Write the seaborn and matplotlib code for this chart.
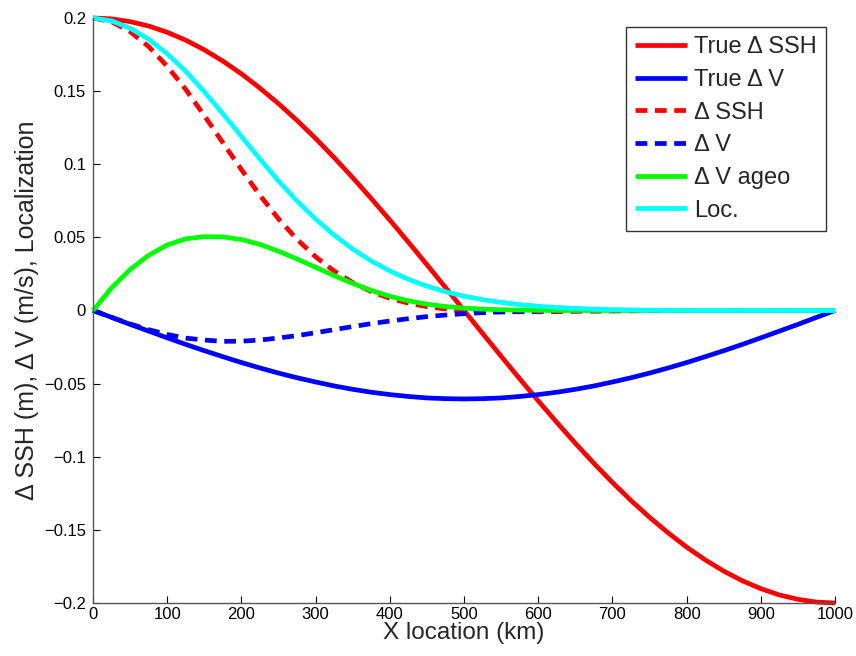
import matplotlib
matplotlib.use("Agg")
import matplotlib.pyplot as plt
import numpy as np
import pandas as pd
import seaborn as sns

# ---- data ----
x_km = [0, 25, 50, 75, 100, 125, 150, 175, 200, 225, 250, 275, 300, 325, 350,
        375, 400, 425, 450, 475, 500, 525, 550, 575, 600, 625, 650, 675, 700,
        725, 750, 775, 800, 825, 850, 875, 900, 925, 950, 975, 1000]

true_dssh = [0.200, 0.1994, 0.1975, 0.1945, 0.1902, 0.1848, 0.1782, 0.1705, 0.1618, 0.1520,
             0.1414, 0.1299, 0.1176, 0.1045, 0.0908, 0.0765, 0.0618, 0.0467, 0.0313, 0.0157,
             0.000, -0.0157, -0.0313, -0.0467, -0.0618, -0.0765, -0.0908, -0.1045, -0.1176,
             -0.1299, -0.1414, -0.1520, -0.1618, -0.1705, -0.1782, -0.1848, -0.1902, -0.1945,
             -0.1975, -0.1994, -0.200]

true_dv = [0.000, -0.0047, -0.0095, -0.0141, -0.0187, -0.0232, -0.0275, -0.0316, -0.0356,
           -0.0393, -0.0428, -0.046, -0.0489, -0.0516, -0.0539, -0.0559, -0.0575, -0.0588,
           -0.0598, -0.0603, -0.0605, -0.0603, -0.0598, -0.0588, -0.0575, -0.0559, -0.0539,
           -0.0516, -0.0489, -0.046, -0.0428, -0.0393, -0.0356, -0.0316, -0.0275, -0.0232,
           -0.0187, -0.0141, -0.0095, -0.0047, 0.000]

dssh = [0.200, 0.1974, 0.1906, 0.1804, 0.1669, 0.1511, 0.1332, 0.1147, 0.0963, 0.0787,
        0.0626, 0.0486, 0.0367, 0.0269, 0.0191, 0.0129, 0.0083, 0.005, 0.0026, 0.001,
        0.000, -0.0006, -0.0009, -0.0009, -0.0009, -0.0008, -0.0006, -0.0005, -0.0004,
        -0.0003, -0.0001, 0, 0, 0, 0, 0, 0, 0, 0, 0, 0]

dv = [0.000, -0.0047, -0.0092, -0.0131, -0.0164, -0.0189, -0.0202, -0.0211, -0.021,
      -0.0202, -0.0188, -0.0172, -0.0152, -0.0131, -0.011, -0.009, -0.0072, -0.0056,
      -0.0042, -0.0031, -0.0022, -0.0015, -0.001, -0.0006, -0.0004, -0.0002, -0.0001,
      0, 0, 0, 0, 0, 0, 0, 0, 0, 0, 0, 0, 0, 0]

dv_ageo = [0.000, 0.0155, 0.028, 0.0378, 0.0448, 0.049, 0.0505, 0.0503, 0.0485, 0.0452,
           0.0405, 0.0352, 0.0295, 0.0238, 0.0185, 0.0137, 0.0097, 0.0066, 0.0043, 0.0027,
           0.0016, 0.0009, 0.0005, 0.0003, 0.0001, 0, 0, 0, 0, 0, 0, 0, 0, 0, 0, 0, 0,
           0, 0, 0, 0]

loc = [0.200, 0.198, 0.193, 0.1855, 0.1755, 0.1635, 0.1495, 0.1345, 0.119, 0.1035, 0.0885,
       0.0748, 0.0625, 0.0515, 0.042, 0.0338, 0.027, 0.0213, 0.0166, 0.0128, 0.0098, 0.0074,
       0.0055, 0.004, 0.0029, 0.002, 0.0014, 0.0009, 0.0006, 0.0004, 0.0002, 0.0001,
       0, 0, 0, 0, 0, 0, 0, 0, 0]

labels = ["True \u0394 SSH", "True \u0394 V", "\u0394 SSH", "\u0394 V", "\u0394 V ageo", "Loc."]
colors = ["#ff0000", "#0000ff", "#ff0000", "#0000ff", "#00ff00", "#00ffff"]
dashed = [False, False, True, True, False, False]

x_ticks = [0, 100, 200, 300, 400, 500, 600, 700, 800, 900, 1000]
y_ticks = [-0.2, -0.15, -0.1, -0.05, 0, 0.05, 0.1, 0.15, 0.2]
y_ticklabels = ["\u22120.2", "\u22120.15", "\u22120.1", "\u22120.05", "0", "0.05", "0.1", "0.15", "0.2"]

# ---- style ----
sns.set_style("ticks")
plt.rcParams["font.family"] = ["Liberation Sans", "DejaVu Sans"]

fig = plt.figure(figsize=(8.56, 6.56), dpi=100)
ax = fig.add_axes([0.1087, 0.0808, 0.8668, 0.8918])

series = [true_dssh, true_dv, dssh, dv, dv_ageo, loc]
for vals, lab, col, dsh in zip(series, labels, colors, dashed):
    df = pd.DataFrame({"x": x_km, "y": vals})
    sns.lineplot(data=df, x="x", y="y", ax=ax, color=col, linewidth=3.4,
                 label=lab, clip_on=False)
    line = ax.get_lines()[-1]
    if dsh:
        line.set_linestyle((0, (2.5, 1.6)))
    line.set_solid_capstyle("butt")
    line.set_dash_capstyle("butt")
    line.set_solid_joinstyle("round")
    line.set_dash_joinstyle("round")

ax.set_xlim(0, 1000)
ax.set_ylim(-0.2, 0.2)
ax.set_xticks(x_ticks)
ax.set_xticklabels([str(t) for t in x_ticks])
ax.set_yticks(y_ticks)
ax.set_yticklabels(y_ticklabels)
ax.tick_params(direction="in", length=5, width=0.8, labelsize=12, colors="#000000")
ax.tick_params(axis="y", pad=5)
ax.tick_params(axis="x", pad=3)
for s in ["top", "right"]:
    ax.spines[s].set_visible(False)
for s in ["left", "bottom"]:
    ax.spines[s].set_color("#555555")
    ax.spines[s].set_linewidth(1.0)

ax.set_xlabel("X location (km)", fontsize=17.5, labelpad=0)
ax.set_ylabel("\u0394 SSH (m), \u0394 V (m/s), Localization", fontsize=18, labelpad=4)

leg = ax.legend(loc="upper right", fontsize=17, frameon=True, fancybox=False,
                handlelength=2.2, handletextpad=0.28, labelspacing=0.45,
                borderpad=0.4, borderaxespad=0.38)
leg.get_frame().set_edgecolor("#333333")
leg.get_frame().set_linewidth(1.0)
leg.get_frame().set_alpha(1.0)

fig.savefig("out.png", dpi=100)
